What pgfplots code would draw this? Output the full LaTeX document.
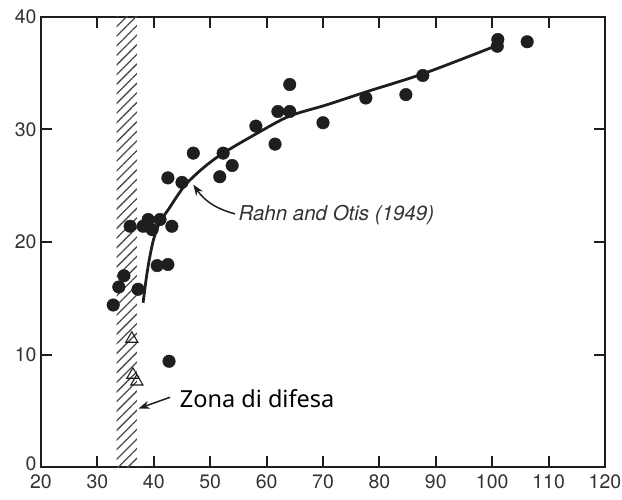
\documentclass[border=0pt]{standalone}
\usepackage{fontspec}
\setmainfont{TeX Gyre Heros}
\newfontfamily\zonafont{Noto Sans}
\usepackage{pgfplots}
\pgfplotsset{compat=1.18}
\usetikzlibrary{patterns.meta,arrows.meta}
\definecolor{ink}{HTML}{1E1E1E}
\definecolor{lbl}{HTML}{333333}
\begin{document}
\begin{tikzpicture}
\begin{axis}[
  width=564pt, height=450pt, scale only axis,
  xmin=20, xmax=120, ymin=0, ymax=40,
  xtick={20,30,...,120}, ytick={0,10,...,40},
  yticklabels={\raisebox{7pt}{0},10,20,30,40},
  tick align=inside, major tick length=11pt,
  axis line style={line width=2.4pt, color=ink},
  every tick/.style={line width=2pt, color=ink},
  tick label style={font=\fontsize{19.5}{19.5}\selectfont, color=lbl},
  yticklabel style={xshift=-1pt},
  xticklabel style={yshift=-4pt},
  /pgf/number format/assume math mode=true,
  clip=false,
]
% zona di difesa (hatched band)
\addplot[draw=none, pattern={Lines[angle=45,distance=6.8pt,line width=1.3pt]}, pattern color=ink!80]
  coordinates {(33.4,0) (37.0,0) (37.0,40) (33.4,40) (33.4,0)};
% fitted curve
\addplot[line width=2.8pt, ink, smooth, tension=0.5] coordinates {
 (38.1,14.6) (38.7,16.9) (39.3,18.7) (40.0,20.3) (41.1,21.8) (42.6,22.9)
 (44.3,24.2) (45.8,25.2) (48.8,26.6) (52.3,27.9) (58.8,29.8) (64.1,31.2)
 (70.7,32.2) (78.0,33.4) (88.0,35.0) (101,37.5)};
% data points
\addplot[only marks, mark=*, mark size=6.3pt, ink] coordinates {
 (32.8,14.4) (33.8,16.0) (34.7,17.0) (35.8,21.4) (37.2,15.8) (38.1,21.4)
 (39.0,22.0) (39.7,21.1) (40.6,17.9) (41.1,22.0) (42.5,18.0) (43.2,21.4)
 (42.5,25.7) (45.0,25.3) (47.0,27.9) (42.7,9.4) (51.7,25.8) (52.3,27.9)
 (53.9,26.8) (58.1,30.3) (61.5,28.7) (62.0,31.6) (64.1,34.0) (64.1,31.6)
 (70.0,30.6) (77.6,32.8) (84.7,33.1) (87.7,34.8) (101.0,38.0) (100.9,37.4)
 (106.2,37.8)};
\addplot[only marks, mark=triangle, mark size=7pt, line width=1.1pt, ink, mark options={fill=white}] coordinates {
 (36.1,11.4) (36.3,8.2) (37.0,7.6)};
% annotations
\node[anchor=west, inner sep=0pt, font=\fontsize{20.5}{20.5}\selectfont\itshape, text=lbl] at (axis cs:55.0,22.4) {Rahn and Otis (1949)};
\draw[line width=1.5pt, ink, -{Stealth[length=11pt,width=8pt]}] (axis cs:54.4,22.5) to[bend left=20] (axis cs:47.0,25.1);
\node[anchor=west, inner sep=0pt, font=\zonafont\fontsize{23.5}{23.5}\selectfont, text=black] at (axis cs:44.6,6.1) {Zona di difesa};
\draw[line width=1.5pt, ink, -{Stealth[length=11pt,width=8pt]}] (axis cs:42.9,6.2) -- (axis cs:37.3,5.2);
\coordinate (sw) at (rel axis cs:0,0);
\coordinate (ne) at (rel axis cs:1,1);
\end{axis}
\pgfresetboundingbox
\path ([shift={(-41pt,-32pt)}]sw) rectangle ([shift={(17pt,17pt)}]ne);
\end{tikzpicture}
\end{document}
